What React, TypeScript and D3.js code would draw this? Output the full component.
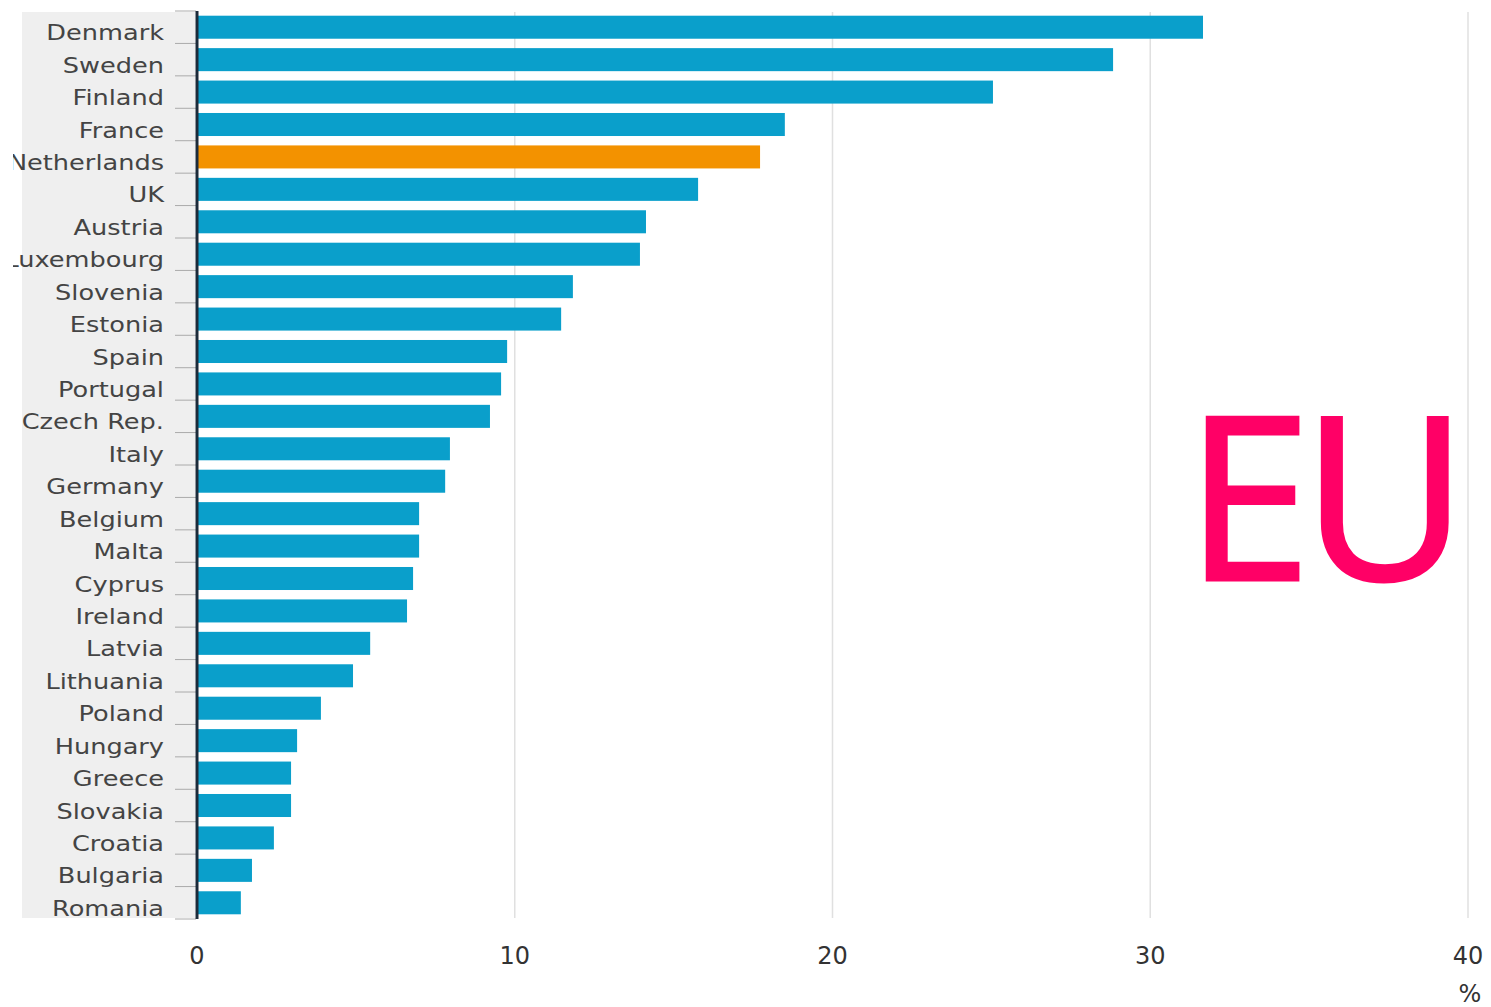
import React from "react";
import * as d3 from "d3";

const countries = [
  "Denmark", "Sweden", "Finland", "France", "Netherlands", "UK", "Austria",
  "Luxembourg", "Slovenia", "Estonia", "Spain", "Portugal", "Czech Rep.",
  "Italy", "Germany", "Belgium", "Malta", "Cyprus", "Ireland", "Latvia",
  "Lithuania", "Poland", "Hungary", "Greece", "Slovakia", "Croatia",
  "Bulgaria", "Romania",
];
const values = [
  31.66, 28.83, 25.05, 18.5, 17.72, 15.77, 14.13, 13.94, 11.83, 11.46, 9.76,
  9.57, 9.22, 7.96, 7.81, 6.99, 6.99, 6.8, 6.61, 5.45, 4.91, 3.9, 3.15, 2.96,
  2.96, 2.42, 1.73, 1.38,
];
const highlight = ["Netherlands"];
const xTicks = [0, 10, 20, 30, 40];
const unitLabel = "%";
const overlayLabel = "EU";

export default function App() {
  const W = 1491, H = 1007;
  const x0 = 197, x1 = 1468;
  const top = 11, bottom = 919;
  const x = d3.scaleLinear().domain([0, 40]).range([x0, x1]);
  const y = d3.scaleBand<string>().domain(countries).range([top, bottom]).paddingInner(0.29).paddingOuter(0.145);
  const band = d3.scaleBand<string>().domain(countries).range([top, bottom]);
  const labelFont = "'DejaVu Sans', Verdana, sans-serif";
  return (
    <svg width={W} height={H} style={{ position: "absolute", left: 0, top: 0 }}>
      <defs>
        <clipPath id="lblclip">
          <rect x={13} y={0} width={200} height={H} />
        </clipPath>
      </defs>
      <rect x={0} y={0} width={W} height={H} fill="#fff" />
      {/* label background */}
      <rect x={22} y={12} width={173} height={906} fill="#efefef" />
      {/* gridlines */}
      {xTicks.filter((t) => t > 0).map((t) => (
        <line key={t} x1={x(t)} x2={x(t)} y1={12} y2={918} stroke="#e0e0e0" strokeWidth={1.5} />
      ))}
      {/* row tick marks */}
      {countries.map((c) => (
        <line key={"t" + c} x1={175} x2={196} y1={band(c)!} y2={band(c)!} stroke="#aaa" strokeWidth={1} />
      ))}
      <line x1={175} x2={196} y1={bottom} y2={bottom} stroke="#aaa" strokeWidth={1} />
      {/* bars */}
      {countries.map((c, i) => (
        <rect
          key={c}
          x={x(0)}
          y={y(c)!}
          width={x(values[i]) - x(0)}
          height={y.bandwidth()}
          fill={highlight.includes(c) ? "#f39200" : "#0a9fcb"}
        />
      ))}
      {/* axis line */}
      <line x1={x(0)} x2={x(0)} y1={top} y2={bottom} stroke="#1c2b3a" strokeWidth={3} />
      {/* category labels */}
      <g clipPath="url(#lblclip)">
        {countries.map((c) => (
          <text
            key={"l" + c}
            transform={`translate(164,${band(c)! + band.bandwidth() / 2 + 13}) scale(1.22,1)`}
            textAnchor="end"
            fontFamily={labelFont}
            fontSize={21}
            fill="#444"
          >
            {c}
          </text>
        ))}
      </g>
      {/* x tick labels */}
      {xTicks.map((t) => (
        <text key={"x" + t} x={x(t)} y={964} textAnchor="middle" fontFamily={labelFont} fontSize={24} fill="#333">
          {t}
        </text>
      ))}
      <text x={1470} y={1002} textAnchor="middle" fontFamily={labelFont} fontSize={24} fill="#333">
        {unitLabel}
      </text>
      <text
        x={1185}
        y={580}
        fontFamily="'Open Sans', sans-serif"
        fontSize={228}
        letterSpacing={-10}
        fill="#ff0066"
        stroke="#ff0066"
        strokeWidth={3}
      >
        {overlayLabel}
      </text>
    </svg>
  );
}
